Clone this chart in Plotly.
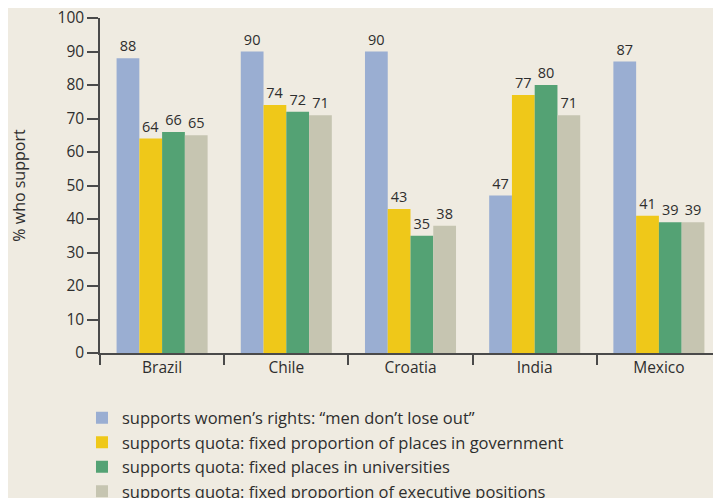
import plotly.graph_objects as go

countries = ["Brazil", "Chile", "Croatia", "India", "Mexico"]
series_names = [
    "supports women’s rights: “men don’t lose out”",
    "supports quota: fixed proportion of places in government",
    "supports quota: fixed places in universities",
    "supports quota: fixed proportion of executive positions",
]
rights_vals = [88, 90, 90, 47, 87]
gov_vals = [64, 74, 43, 77, 41]
univ_vals = [66, 72, 35, 80, 39]
exec_vals = [65, 71, 38, 71, 39]
y_ticks = [0, 10, 20, 30, 40, 50, 60, 70, 80, 90, 100]

colors = ["#9aaed2", "#efc819", "#54a274", "#c6c5b1"]
all_vals = [rights_vals, gov_vals, univ_vals, exec_vals]

FONT = "Open Sans"
TXT = "#2e2e2e"
AX = "#4a4a4a"

fig = go.Figure()
for i, (name, vals) in enumerate(zip(series_names, all_vals)):
    fig.add_trace(go.Bar(
        x=countries, y=vals, name=name,
        marker=dict(color=colors[i], line=dict(width=0)),
        text=[str(v) for v in vals], textposition="outside",
        textfont=dict(family=FONT, size=14.5, color=TXT),
        cliponaxis=False, legendgroup=str(i),
    ))

fig.update_layout(
    width=713, height=490,
    margin=dict(l=92, r=0, t=10, b=145, autoexpand=False),
    paper_bgcolor="#efebe1", plot_bgcolor="#efebe1",
    barmode="group", bargap=0.267, bargroupgap=0,
    font=dict(family=FONT, color=TXT, size=16),
    showlegend=True,
    legend=dict(
        x=-0.029, xanchor="left", y=-0.142, yanchor="top",
        bgcolor="rgba(0,0,0,0)", font=dict(family=FONT, size=16.5, color=TXT),
        traceorder="grouped", tracegroupgap=0,
    ),
)
fig.update_xaxes(
    type="category", showgrid=False, showline=True, linecolor=AX, linewidth=1.5,
    ticks="outside", tickson="boundaries", ticklen=10, tickwidth=1.5, tickcolor=AX,
    tickfont=dict(family=FONT, size=15.5, color=TXT),
)
fig.update_yaxes(
    range=[0, 100], tickvals=y_ticks, showgrid=False, zeroline=False,
    showline=True, linecolor=AX, linewidth=1.5,
    ticks="outside", ticklen=11, tickwidth=1.5, tickcolor=AX,
    ticklabeloverflow="allow",
    tickfont=dict(family=FONT, size=15.5, color=TXT),
    title=dict(text="% who support", font=dict(family=FONT, size=16, color=TXT), standoff=28),
)

fig.write_html("out.html")
